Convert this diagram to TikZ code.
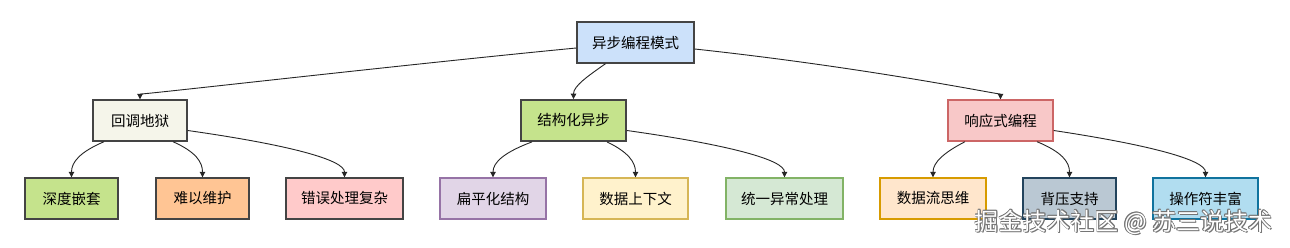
\documentclass[tikz,border=0pt]{standalone}
\usepackage{fontspec}
\setmainfont{Noto Sans CJK SC}
\usetikzlibrary{arrows.meta}
\definecolor{rootF}{HTML}{CCE1FA}
\definecolor{cbF}{HTML}{F5F5EA}
\definecolor{grF}{HTML}{C5E38C}
\definecolor{rxF}{HTML}{F8C8C8}
\definecolor{rxD}{HTML}{CC6666}
\definecolor{orF}{HTML}{FFC594}
\definecolor{pkF}{HTML}{FFCACA}
\definecolor{puF}{HTML}{E1D5E7}
\definecolor{puD}{HTML}{9673A6}
\definecolor{yeF}{HTML}{FFF2CC}
\definecolor{yeD}{HTML}{D6B656}
\definecolor{lgF}{HTML}{D5E8D4}
\definecolor{lgD}{HTML}{82B366}
\definecolor{loF}{HTML}{FFE6CC}
\definecolor{loD}{HTML}{D79B00}
\definecolor{slF}{HTML}{BAC8D3}
\definecolor{slD}{HTML}{23445D}
\definecolor{blF}{HTML}{B1DDF0}
\definecolor{blD}{HTML}{10739E}
\definecolor{dk}{HTML}{444444}
\begin{document}
\begin{tikzpicture}[x=1pt,y=-1pt,
  box/.style={rectangle,draw=dk,line width=1.4pt,minimum height=41pt,inner sep=0pt,
    font=\fontsize{14.5pt}{17pt}\selectfont,text=black},
  link/.style={draw=black!85,line width=0.9pt,-{Triangle[length=5.5pt,width=5.5pt]}},
  wmark/.style={font=\fontsize{24pt}{27pt}\selectfont,anchor=center}]
\useasboundingbox[fill=white] (0,0) rectangle (1290,248);
% level 1
\node[box,fill=rootF,minimum width=117pt] (root) at (635.5,42.5) {异步编程模式};
% level 2
\node[box,fill=cbF,minimum width=94pt] (cb) at (140,120.5) {回调地狱};
\node[box,fill=grF,minimum width=105pt,line width=1.8pt] (st) at (573.5,120.5) {结构化异步};
\node[box,fill=rxF,draw=rxD,minimum width=105pt] (rx) at (1000.5,120.5) {响应式编程};
% level 3
\node[box,fill=grF,minimum width=93pt] (n1) at (71.5,198.5) {深度嵌套};
\node[box,fill=orF,minimum width=93pt] (n2) at (202.5,198.5) {难以维护};
\node[box,fill=pkF,minimum width=117pt] (n3) at (344.5,198.5) {错误处理复杂};
\node[box,fill=puF,draw=puD,minimum width=106pt] (n4) at (493,198.5) {扁平化结构};
\node[box,fill=yeF,draw=yeD,minimum width=105pt] (n5) at (635.5,198.5) {数据上下文};
\node[box,fill=lgF,draw=lgD,minimum width=117pt] (n6) at (784.5,198.5) {统一异常处理};
\node[box,fill=loF,draw=loD,minimum width=106pt] (n7) at (933,198.5) {数据流思维};
\node[box,fill=slF,draw=slD,minimum width=93pt] (n8) at (1069.5,198.5) {背压支持};
\node[box,fill=blF,draw=blD,minimum width=105pt] (n9) at (1205.5,198.5) {操作符丰富};
% connectors
\draw[link] ([yshift=-5.5pt]root.west) .. controls (400,65) and (140,95) .. (cb.north);
\draw[link] ([xshift=-30pt]root.south) .. controls (588,76) and (573.5,86) .. (st.north);
\draw[link] ([yshift=-6.5pt]root.east) .. controls (870,68) and (1000.5,95) .. (rx.north);
\draw[link] ([xshift=-36pt]cb.south) .. controls (80,152) and (71.5,162) .. (n1.north);
\draw[link] ([xshift=33pt]cb.south) .. controls (196,152) and (202.5,162) .. (n2.north);
\draw[link] ([yshift=-10pt]cb.east) .. controls (290,145) and (344.5,160) .. (n3.north);
\draw[link] ([xshift=-41.5pt]st.south) .. controls (505,152) and (493,162) .. (n4.north);
\draw[link] ([xshift=33.5pt]st.south) .. controls (628,152) and (635.5,162) .. (n5.north);
\draw[link] ([yshift=-10pt]st.east) .. controls (730,145) and (784.5,160) .. (n6.north);
\draw[link] ([xshift=-35.5pt]rx.south) .. controls (945,152) and (933,162) .. (n7.north);
\draw[link] ([xshift=36.5pt]rx.south) .. controls (1062,152) and (1069.5,162) .. (n8.north);
\draw[link] ([yshift=-10pt]rx.east) .. controls (1150,145) and (1205.5,160) .. (n9.north);
% watermark
\foreach \dx/\dy in {-0.7/0,0.7/0,0/-0.7,0/0.7,-0.5/-0.5,0.5/0.5,-0.5/0.5,0.5/-0.5,1.2/1.2}
  \node[wmark,text=black!55] at (1123.5+\dx,222+\dy) {掘金技术社区 @ 苏三说技术};
\node[wmark,text=white] (wm) at (1123.5,222) {掘金技术社区 @ 苏三说技术};
\end{tikzpicture}
\end{document}
